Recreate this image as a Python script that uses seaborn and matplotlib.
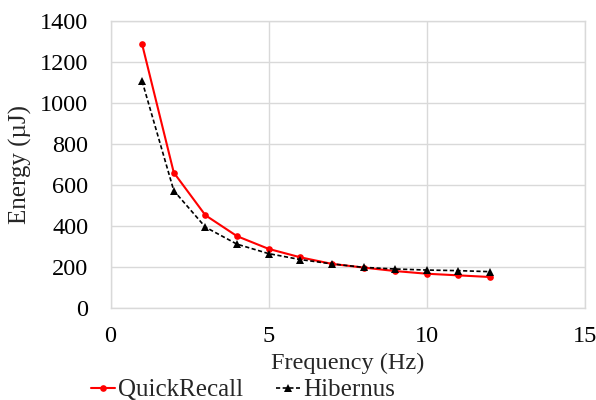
import matplotlib
matplotlib.use("Agg")
import matplotlib.pyplot as plt
import seaborn as sns
import pandas as pd

freq = [1, 2, 3, 4, 5, 6, 7, 8, 9, 10, 11, 12]
quickrecall = [1285, 660, 452, 350, 288, 247, 215, 197, 180, 167, 159, 151]
hibernus = [1105, 572, 394, 311, 265, 236, 215, 198, 190, 185, 182, 177]
series_names = ["QuickRecall", "Hibernus"]
x_ticks = [0, 5, 10, 15]
y_ticks = [0, 200, 400, 600, 800, 1000, 1200, 1400]

df = pd.DataFrame({
    "Frequency": freq + freq,
    "Energy": quickrecall + hibernus,
    "Scheme": [series_names[0]] * len(freq) + [series_names[1]] * len(freq),
})

sns.set_theme(style="white")
plt.rcParams["font.family"] = ["Liberation Serif", "DejaVu Serif"]

fig = plt.figure(figsize=(5.96, 4.0), dpi=100)
ax = fig.add_axes([110.5 / 596, 92 / 400, (585 - 110.5) / 596, (308 - 20.7) / 400])

sns.lineplot(
    data=df, x="Frequency", y="Energy", hue="Scheme", style="Scheme",
    palette={"QuickRecall": "#ff0000", "Hibernus": "#000000"},
    markers={"QuickRecall": "o", "Hibernus": "^"},
    dashes={"QuickRecall": "", "Hibernus": (2.5, 1.5)},
    markeredgewidth=0, ax=ax, legend=False,
)
lines = ax.get_lines()
lines[0].set_linewidth(1.5)
lines[0].set_markersize(4.8)
lines[1].set_linewidth(1.2)
lines[1].set_markersize(5.5)

ax.set_xlim(0, 15)
ax.set_ylim(0, 1400)
ax.set_xticks(x_ticks)
ax.set_yticks(y_ticks)
ax.grid(True, color="#d9d9d9", linewidth=1.0)
ax.set_axisbelow(True)
for s in ax.spines.values():
    s.set_color("#d9d9d9")
    s.set_linewidth(1.0)
ax.tick_params(axis="both", length=0, labelsize=17.5, colors="black")
ax.tick_params(axis="y", pad=16)
ax.tick_params(axis="x", pad=13)

ax.set_xlabel("Frequency (Hz)", fontsize=17.5)
ax.xaxis.label.set_va("center")
ax.xaxis.set_label_coords(0.5, (308 - 363) / 287.3)
ax.set_ylabel("Energy (µJ)", fontsize=18)
ax.yaxis.label.set_va("center")
ax.yaxis.set_label_coords(-(110.5 - 20) / 474.5, 0.5)

fig.legend(
    lines, series_names, loc="center", bbox_to_anchor=(243 / 596, 1 - 390 / 400),
    ncol=2, frameon=False, fontsize=18, handlelength=0.95, handletextpad=0.15,
    columnspacing=1.3, borderpad=0, borderaxespad=0,
)

fig.savefig("out.png", dpi=100)
